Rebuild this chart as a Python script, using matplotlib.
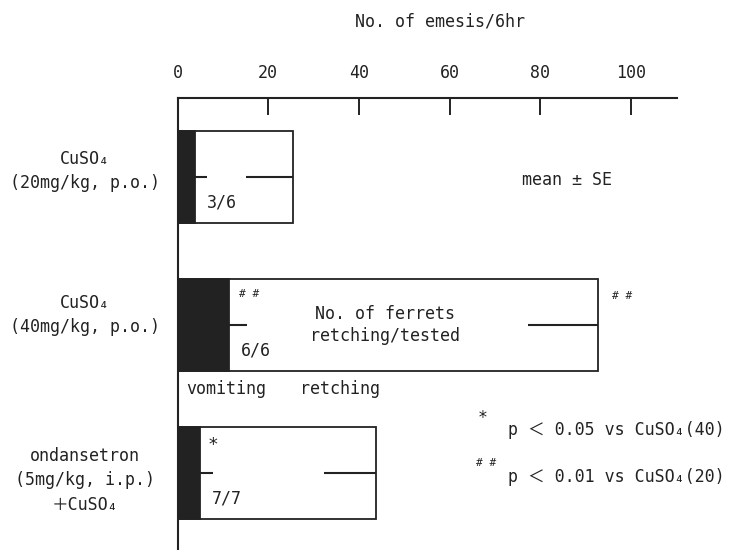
import matplotlib.pyplot as plt
import numpy as np

# data
groups = ['CuSO₄\n(20mg/kg, p.o.)', 'CuSO₄\n(40mg/kg, p.o.)', 'ondansetron\n(5mg/kg, i.p.)\n＋CuSO₄']
vomiting = [3.9, 11.4, 5.0]
vomiting_se = [2.5, 4.0, 2.8]
total = [25.4, 92.7, 43.7]          # vomiting + retching
total_se = [10.3, 15.4, 11.5]
counts = ['3/6', '6/6', '7/7']
xticks = [0, 20, 40, 60, 80, 100]

fam = ['DejaVu Sans Mono', 'Noto Sans CJK JP']
plt.rcParams['font.family'] = fam
fs = 12
ink = '#222222'

fig = plt.figure(figsize=(7.32, 5.5), dpi=100)
ax = fig.add_axes([0.2425, 0.0, 0.682, 0.8224])

y = np.arange(len(groups))
h = 0.62
ax.barh(y, total, height=h, color='white', edgecolor=ink, linewidth=1.3, zorder=2)
ax.barh(y, vomiting, height=h, color=ink, edgecolor=ink, linewidth=1.3, zorder=3)

# error lines: vomiting upward, total downward (inside bar)
for i in range(len(groups)):
    ax.hlines(y[i], vomiting[i], vomiting[i] + vomiting_se[i], color=ink, lw=1.5, zorder=4)
    ax.hlines(y[i], total[i] - total_se[i], total[i], color=ink, lw=1.5, zorder=4)
    ax.text(vomiting[i] + 2.5, y[i] + 0.17, counts[i], fontsize=fs, va='center', ha='left', zorder=5,
            color=ink)

ax.set_xlim(0, 110.1)
ax.set_ylim(2.52, -0.537)
ax.xaxis.tick_top()
ax.set_xticks(xticks)
ax.tick_params(axis='x', direction='in', length=12, width=1.4, pad=11, labelsize=fs, colors=ink)
ax.set_yticks([])
for s in ['right', 'bottom']:
    ax.spines[s].set_visible(False)
for s in ['top', 'left']:
    ax.spines[s].set_linewidth(1.5)
    ax.spines[s].set_color(ink)

# group labels
for i, g in enumerate(groups):
    off = [-0.04, -0.07, 0.05][i]
    ax.text(-0.185, y[i] + off, g, transform=ax.get_yaxis_transform(), ha='center', va='center',
            fontsize=fs, linespacing=1.45, color=ink)

# annotations
ax.text(86, 0.02, 'mean ± SE', fontsize=fs, ha='center', va='center', color=ink)
ax.text(13.6, 0.79, '# #', fontsize=8, ha='left', va='center', color=ink)
ax.text(95.9, 0.80, '# #', fontsize=8, ha='left', va='center', color=ink)
ax.text(45.8, 1.0, 'No. of ferrets\nretching/tested', fontsize=fs, ha='center', va='center',
        linespacing=1.3, color=ink)
ax.text(1.9, 1.43, 'vomiting', fontsize=fs, ha='left', va='center', color=ink)
ax.text(27, 1.43, 'retching', fontsize=fs, ha='left', va='center', color=ink)
ax.text(6.7, 1.81, '*', fontsize=13, ha='left', va='center', color=ink)

fig.text(440 / 732, 1 - 22 / 550, 'No. of emesis/6hr', fontsize=fs, ha='center', va='center', color=ink)
fig.text(478 / 732, 1 - 418 / 550, '*', fontsize=12, ha='left', va='center', color=ink)
fig.text(508 / 732, 1 - 430 / 550, 'p ＜ 0.05 vs CuSO₄(40)', fontsize=fs, ha='left', va='center', color=ink)
fig.text(476 / 732, 1 - 463 / 550, '# #', fontsize=8, ha='left', va='center', color=ink)
fig.text(508 / 732, 1 - 477 / 550, 'p ＜ 0.01 vs CuSO₄(20)', fontsize=fs, ha='left', va='center', color=ink)

fig.savefig('out.png', dpi=100)
